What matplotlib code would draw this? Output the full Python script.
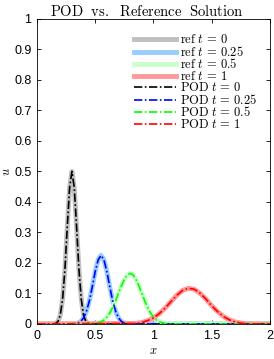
import matplotlib
matplotlib.use("Agg")
import matplotlib.pyplot as plt

plt.rcParams['mathtext.fontset'] = 'cm'
plt.rcParams['font.family'] = 'Liberation Sans'

# values
x0 = [0, 0.14, 0.16, 0.18, 0.20, 0.22, 0.24, 0.26, 0.28, 0.30, 0.32, 0.34, 0.36, 0.38, 0.40, 0.42, 0.44, 0.46, 2]
u0 = [0, 0.0, 0.002, 0.008, 0.029, 0.082, 0.180, 0.318, 0.447, 0.500, 0.447, 0.318, 0.180, 0.082, 0.029, 0.008, 0.002, 0.0, 0]

x1 = [0, 0.30, 0.325, 0.35, 0.375, 0.40, 0.425, 0.45, 0.475, 0.50, 0.525, 0.55, 0.575, 0.60, 0.625,
      0.65, 0.675, 0.70, 0.725, 0.75, 0.775, 0.80, 2]
u1 = [0, 0.0, 0.001, 0.003, 0.008, 0.020, 0.042, 0.076, 0.122, 0.172, 0.210, 0.225, 0.210, 0.172, 0.122,
      0.076, 0.042, 0.020, 0.008, 0.003, 0.001, 0.0, 0]

x2 = [0, 0.50, 0.525, 0.55, 0.575, 0.60, 0.625, 0.65, 0.675, 0.70, 0.725, 0.75, 0.775, 0.80, 0.825,
      0.85, 0.875, 0.90, 0.925, 0.95, 0.975, 1.0, 1.025, 1.05, 1.075, 1.10, 1.125, 2]
u2 = [0, 0.002, 0.004, 0.007, 0.013, 0.022, 0.036, 0.054, 0.076, 0.101, 0.125, 0.146, 0.161, 0.166, 0.161,
      0.146, 0.125, 0.101, 0.076, 0.054, 0.036, 0.022, 0.013, 0.007, 0.004, 0.002, 0.0, 0]

x3 = [0, 0.85, 0.90, 0.95, 1.00, 1.05, 1.10, 1.15, 1.20, 1.25, 1.30, 1.35, 1.40, 1.45, 1.50,
      1.55, 1.60, 1.65, 1.70, 1.75, 1.80, 1.85, 2]
u3 = [0, 0.002, 0.005, 0.011, 0.020, 0.034, 0.052, 0.073, 0.094, 0.110, 0.117, 0.114, 0.101, 0.082, 0.060,
      0.041, 0.025, 0.014, 0.007, 0.003, 0.001, 0.0, 0]

times = ['0', '0.25', '0.5', '1']
ref_colors = ['#bfbfbf', '#99ccff', '#ccffcc', '#ff9999']
pod_colors = ['black', 'blue', '#00ff00', 'red']
xs = [x0, x1, x2, x3]
us = [u0, u1, u2, u3]

fig = plt.figure(figsize=(2.74, 3.59), dpi=100)
ax = fig.add_axes([0.135, 0.0975, 0.85, 0.85])

for x, u, c, t in zip(xs, us, ref_colors, times):
    ax.plot(x, u, color=c, lw=3.5, label=r'$\mathrm{ref}\ t\,=\,' + t + '$')
for x, u, c, t in zip(xs, us, pod_colors, times):
    ax.plot(x, u, color=c, lw=1.2, ls=(0, (5, 1.5, 1, 1.5)), label=r'$\mathrm{POD}\ t\,=\,' + t + '$')

ax.set_xlim(0, 2)
ax.set_ylim(0, 1)
ax.set_xticks([0, 0.5, 1, 1.5, 2])
ax.set_xticklabels(['0', '0.5', '1', '1.5', '2'])
ax.set_yticks([i / 10 for i in range(11)])
ax.set_yticklabels(['0'] + ['0.%d' % i for i in range(1, 10)] + ['1'])
ax.tick_params(direction='in', top=True, right=True, length=3, width=0.6, labelsize=9, pad=4)
for s in ax.spines.values():
    s.set_linewidth(0.6)

ax.set_title(r'$\mathrm{POD\ \ vs.\ \ Reference\ \ Solution}$', fontsize=10.5, pad=2, x=0.47)
ax.set_xlabel(r'$x$', fontsize=9)
ax.set_ylabel(r'$u$', fontsize=9)
ax.xaxis.set_label_coords(0.5, -0.068)
ax.yaxis.set_label_coords(-0.105, 0.5)

ax.legend(loc='upper left', bbox_to_anchor=(0.415, 0.952), frameon=False, fontsize=9,
          handlelength=3.4, labelspacing=-0.12, handletextpad=0.3, borderpad=0, borderaxespad=0)

fig.savefig('out.png', dpi=100)
